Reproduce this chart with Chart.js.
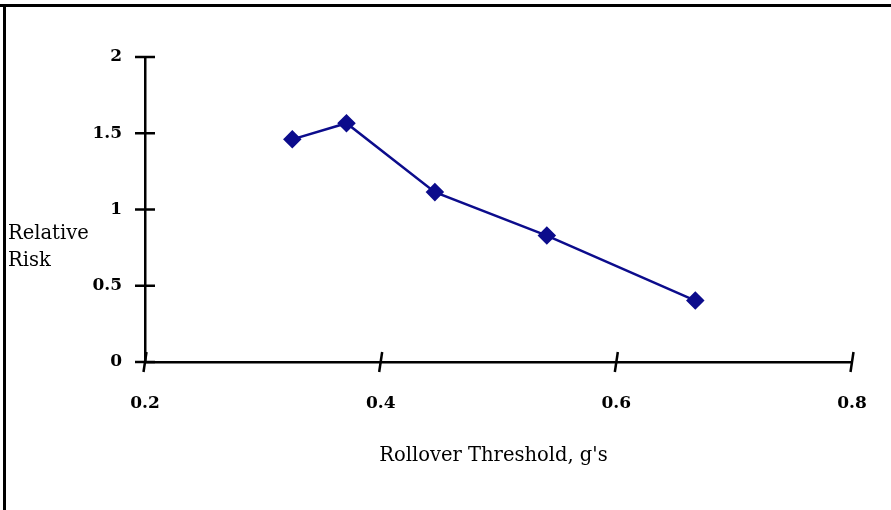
<!DOCTYPE html>
<html>
<head>
    <title>Relative Risk vs Rollover Threshold</title>
    <script src="https://cdn.jsdelivr.net/npm/chart.js"></script>
    <style>
        html, body { margin: 0; padding: 0; background: #fff; }
        #wrap { width: 891px; height: 510px; }
    </style>
</head>
<body>
<div id="wrap"><canvas id="riskChart" width="891" height="510"></canvas></div>
<script>
    // values
    const thresholds = [0.325, 0.371, 0.446, 0.541, 0.667];
    const relativeRisk = [1.46, 1.566, 1.114, 0.829, 0.403];
    const xTickValues = [0.2, 0.4, 0.6, 0.8];
    const yTickValues = [0, 0.5, 1, 1.5, 2];
    const xTitle = "Rollover Threshold, g's";
    const yTitle = ['Relative', 'Risk'];

    const serif = "'DejaVu Serif', serif";

    // frame, hand-style tick marks and the two axis titles
    const decor = {
        id: 'decor',
        beforeDraw(chart) {
            const c = chart.ctx;
            c.save();
            c.fillStyle = '#fff';
            c.fillRect(0, 0, chart.width, chart.height);
            c.fillStyle = '#000';
            c.fillRect(0, 4, chart.width, 3);
            c.fillRect(3, 4, 3, chart.height);
            c.restore();
        },
        afterDraw(chart) {
            const c = chart.ctx;
            const xs = chart.scales.x, ys = chart.scales.y;
            const y0 = ys.getPixelForValue(0);
            const x0 = xs.getPixelForValue(0.2);
            c.save();
            c.strokeStyle = '#000';
            c.lineWidth = 2.5;
            xTickValues.forEach(v => {
                const px = xs.getPixelForValue(v);
                c.beginPath();
                c.moveTo(px + 1.5, y0 - 10);
                c.lineTo(px - 1.5, y0 + 10);
                c.stroke();
            });
            yTickValues.forEach(v => {
                const py = ys.getPixelForValue(v);
                c.beginPath();
                c.moveTo(x0 - 10, py);
                c.lineTo(x0 + 10, py);
                c.stroke();
            });
            c.fillStyle = '#000';
            c.font = '19.5px ' + serif;
            c.textAlign = 'center';
            c.textBaseline = 'alphabetic';
            c.fillText(xTitle, (xs.left + xs.right) / 2 - 5, 461);
            c.textAlign = 'left';
            c.fillText(yTitle[0], 8, 239);
            c.fillText(yTitle[1], 8, 266);
            c.restore();
        }
    };

    const ctx = document.getElementById('riskChart').getContext('2d');
    new Chart(ctx, {
        type: 'scatter',
        data: {
            datasets: [{
                label: 'Relative Risk',
                data: thresholds.map((t, i) => ({ x: t, y: relativeRisk[i] })),
                showLine: true,
                borderColor: '#0c0c8c',
                backgroundColor: '#0c0c8c',
                borderWidth: 2.5,
                pointStyle: 'rectRot',
                pointRadius: 7.5,
                pointHoverRadius: 7.5,
                tension: 0
            }]
        },
        options: {
            responsive: false,
            animation: false,
            events: [],
            layout: { padding: { top: 57, right: 39, bottom: 0, left: 0 } },
            plugins: {
                legend: { display: false },
                tooltip: { enabled: false }
            },
            scales: {
                x: {
                    type: 'linear',
                    min: 0.2,
                    max: 0.8,
                    afterFit: s => { s.height = 148; s.paddingLeft = 0; s.paddingRight = 0; },
                    afterBuildTicks: s => { s.ticks = xTickValues.map(v => ({ value: v })); },
                    grid: { display: false, drawTicks: false },
                    border: { color: '#000', width: 2.5 },
                    ticks: {
                        padding: 31,
                        color: '#000',
                        font: { family: serif, size: 17, weight: 'bold' },
                        callback: v => v.toFixed(1)
                    }
                },
                y: {
                    min: 0,
                    max: 2,
                    afterFit: s => { s.width = 145; s.paddingTop = 0; s.paddingBottom = 0; },
                    afterBuildTicks: s => { s.ticks = yTickValues.map(v => ({ value: v })); },
                    grid: { display: false, drawTicks: false },
                    border: { color: '#000', width: 2.5 },
                    ticks: {
                        padding: 23,
                        color: '#000',
                        font: { family: serif, size: 17, weight: 'bold' },
                        callback: v => String(v)
                    }
                }
            }
        },
        plugins: [decor]
    });
</script>
</body>
</html>
